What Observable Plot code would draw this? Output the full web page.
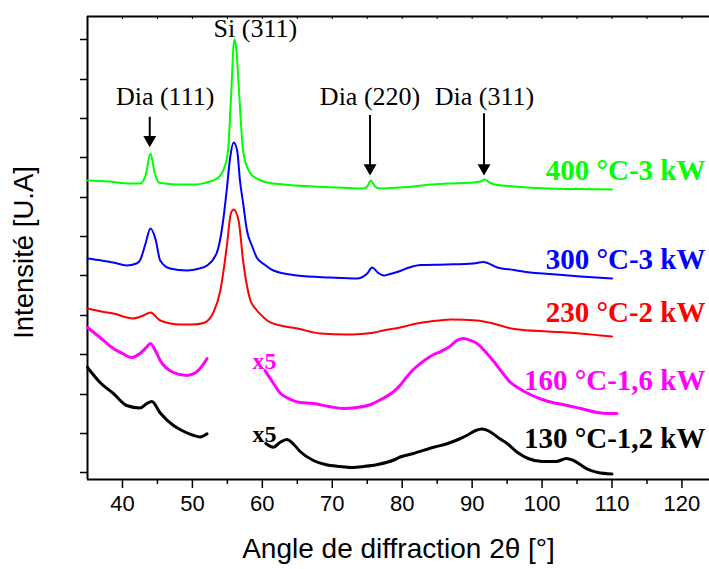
<!DOCTYPE html>
<html><head><meta charset="utf-8">
<script src="https://cdn.jsdelivr.net/npm/d3@7"></script>
<script src="https://cdn.jsdelivr.net/npm/@observablehq/plot@0.6"></script>
<style>body{margin:0;background:#fff}</style>
</head><body><div id="chart"></div>
<script>
// x ticks (2θ, degrees)
const xTicks = [40, 50, 60, 70, 80, 90, 100, 110, 120];
const xMinorTicks = [45, 55, 65, 75, 85, 95, 105, 115];
const xTopTicks = [40, 45, 50, 55, 60, 65, 70, 75, 80, 85, 90, 95, 100, 105, 110, 115, 120];
// y ticks (arbitrary units)
const yTicks = [7, 46, 85, 125, 164, 204, 243, 282, 322, 361, 400, 440];

// series: [2θ, intensity (a.u., offset)]
const s400 = [[35,299],[38,298],[41,296],[42.5,296],[43.3,304],[44,326],[44.6,307],[45.2,297],[46,296],[48,295],[50.6,295],[52,297],[53,299],[54,304],[54.4,309],[55.1,329],[55.5,379],[56,440],[56.3,429],[56.6,396],[57.3,326],[58.3,306],[59.5,300],[60.7,297],[63,295],[67.3,293],[71,292],[74.4,291],[75,293],[75.5,299],[76.1,293],[76.9,291],[79.7,292],[81.6,293],[84,295],[86.4,296],[90.2,297],[91.2,298],[91.8,300],[92.5,297],[93.2,295],[96,293],[100.8,291],[105,290.5],[110,290]];
const s300 = [[35,221],[37,219],[38.7,217],[40.6,214],[42,216],[42.5,219],[43.3,236],[44,251],[44.7,241],[45.4,219],[46.8,211],[49.2,209],[51,211],[52.1,214],[53.5,227],[54.4,259],[54.9,289],[55.4,322],[55.9,337],[56.4,329],[56.8,299],[57.3,274],[57.8,249],[58.5,234],[59.2,222],[60.3,215],[61.6,209],[65,204],[69.7,202],[73.5,201],[75,206],[75.7,212],[76.5,207],[77.4,204],[78,205],[79.5,208],[81,212],[82.6,214.5],[86.4,215],[90.2,216],[91.6,217.5],[93.6,212],[96,209.5],[98.3,207],[101,205.5],[105.5,203],[110,201]];
const s230 = [[35,171],[37,168],[38.7,166],[41.5,161],[43,164],[44,167],[45.4,159],[48.3,155],[50,155],[51.6,156.5],[53,167],[54,189],[54.9,232],[55.5,266],[55.9,270],[56.6,259],[57.3,216],[58.3,179],[59,171],[60.2,162],[60.7,159],[62.6,154],[65,151],[68.3,146],[72.1,145],[74,145.5],[76,147],[77.3,149],[79.7,152],[82.1,156],[84,158],[87,160],[90.7,159],[93,156],[96,150.5],[100.8,148],[103.6,147],[105.5,146],[108.4,144],[110,143]];
const s160a = [[35,152],[36.8,142],[38.7,131],[40,126],[41.3,122],[42.5,126],[43.4,132],[44,136],[44.7,129],[45.4,119],[47.3,107],[49.2,104],[50.5,107],[51.1,111],[52.1,121]];
const s160b = [[60.4,109],[61.6,96],[62.6,86],[63.5,82],[65.4,77],[67.3,76],[69.5,73],[71.6,71],[73.5,72],[75.5,75],[76.4,78],[77.5,82],[78.8,88],[79.8,95],[80.7,103],[81.6,110],[82.6,116],[84,123],[85.5,128],[86.8,133],[87.8,139],[88.8,141],[89.8,139],[90.7,136],[92,127],[93.1,118],[94.3,107],[95.5,97],[96.5,92],[98.3,85],[100,80],[101.5,77],[103.3,74.5],[105.5,71],[107.9,67],[109.5,66],[110.7,66]];
const s130a = [[35,112],[36.8,97],[38.7,86],[40.6,74],[42.5,71.5],[43.5,76],[44.2,78],[45.4,66.5],[47.3,54],[48.5,49],[50.2,44],[51.1,42.5],[52.1,45.7]];
const s130b = [[60.5,36],[61.6,32.3],[62.5,37],[63.5,40],[64.5,35],[65.4,28],[67.3,19],[69,15],[71.1,13],[73,12],[74.5,13],[76.5,15],[78.8,19.5],[79.7,22.5],[81.6,26],[84.5,32.3],[86.4,35.7],[88,40],[89.5,45],[90.5,49],[91.4,50.5],[92.5,48],[93.8,41.5],[95,36],[96.5,27],[98,21],[100,18],[102,18],[103.5,21],[104.5,19],[106.4,10.7],[108,7],[110,5.5]];

const seriesNames = ["400 °C-3 kW", "300 °C-3 kW", "230 °C-2 kW", "160 °C-1,6 kW", "130 °C-1,2 kW"];
const seriesColors = ["#00ff00", "#0000ff", "#ff0000", "#ff00ff", "#000000"];
const seriesLabelY = [299.7, 210.7, 157.3, 89.7, 31.5];

// peak annotations
const peakNames = ["Dia (111)", "Si (311)", "Dia (220)", "Dia (311)"];
const peakLabelX = [46.1, 59.0, 75.4, 91.75];
const peakLabelY = [375, 442.3, 375, 375];
const arrowX = [43.9, 75.4, 91.7];
const arrowTop = [362.3, 364, 365.7];
const arrowTip = [332.3, 304, 304];

// "x5" magnification markers
const x5Color = ["#ff00ff", "#000000"];
const x5X = [60.3, 60.3];
const x5Y = [110.7, 38];

const segments = [
  {data: s400, c: 0, w: 2}, {data: s300, c: 1, w: 2}, {data: s230, c: 2, w: 2},
  {data: s160a, c: 3, w: 3}, {data: s160b, c: 3, w: 3},
  {data: s130a, c: 4, w: 3}, {data: s130b, c: 4, w: 3}
];
const rows = segments.flatMap((s, i) => s.data.map(([x, y]) => ({x, y, seg: i})));

const arrows = arrowX.map((x, i) => ({x, top: arrowTop[i], tip: arrowTip[i]}));
const peaks = peakNames.map((t, i) => ({t, x: peakLabelX[i], y: peakLabelY[i]}));
const labels = seriesNames.map((t, i) => ({t, y: seriesLabelY[i], color: seriesColors[i]}));
const x5 = x5X.map((x, i) => ({x, y: x5Y[i], color: x5Color[i]}));

const serif = "'Liberation Serif', 'Times New Roman', serif";
const chart = Plot.plot({
  width: 709, height: 569,
  marginTop: 16, marginBottom: 90, marginLeft: 87, marginRight: 0,
  style: {fontFamily: "'Liberation Sans', Arial, sans-serif", background: "#fff", overflow: "visible"},
  x: {domain: [35, 123.94]},
  y: {domain: [0, 463]},
  marks: [
    Plot.axisX(xTicks, {tickSize: 9, tickPadding: 7, fontSize: 22, label: null, strokeWidth: 1.5}),
    Plot.axisX(xMinorTicks, {tickSize: 5, tickFormat: () => "", label: null, strokeWidth: 1.5}),
    Plot.axisX(xTopTicks, {anchor: "top", tickSize: -2, tickFormat: () => "", label: null}),
    Plot.axisY(yTicks, {tickSize: 7, tickFormat: () => "", label: null, strokeWidth: 1.5}),
    Plot.ruleY([0], {strokeWidth: 2}),
    Plot.ruleY([463], {strokeWidth: 2}),
    Plot.ruleX([35], {strokeWidth: 2}),
    ...segments.map((s, i) => Plot.line(rows.filter(r => r.seg === i), {x: "x", y: "y", stroke: seriesColors[s.c], strokeWidth: s.w, curve: "monotone-x"})),
    Plot.ruleX(arrows, {x: "x", y1: "top", y2: d => d.tip + 9, strokeWidth: 2, stroke: "black"}),
    Plot.dot(arrows, {x: "x", y: d => d.tip + 7.5, symbol: "triangle", rotate: 180, r: 4.8, fill: "black", stroke: null}),
    Plot.text(peaks, {x: "x", y: "y", text: "t", fontFamily: serif, fontSize: 26, lineAnchor: "bottom", fill: "black"}),
    Plot.text(labels, {y: "y", text: "t", frameAnchor: "right", dx: -4, textAnchor: "end", lineAnchor: "bottom", fontFamily: serif, fontWeight: "bold", fontSize: 29, fill: "color"}),
    Plot.text(x5, {x: "x", y: "y", text: () => "x5", lineAnchor: "bottom", fontFamily: serif, fontWeight: "bold", fontSize: 24, fill: "color"}),
    Plot.text(["Angle de diffraction 2θ [°]"], {frameAnchor: "bottom", dy: 70, fontSize: 28, textAnchor: "middle", lineAnchor: "middle", fill: "black"}),
    Plot.text(["Intensité [U.A]"], {frameAnchor: "left", y: [227], dx: -63, rotate: -90, fontSize: 27.5, textAnchor: "middle", lineAnchor: "middle", fill: "black"})
  ]
});
document.getElementById("chart").appendChild(chart);
</script>
</body></html>
